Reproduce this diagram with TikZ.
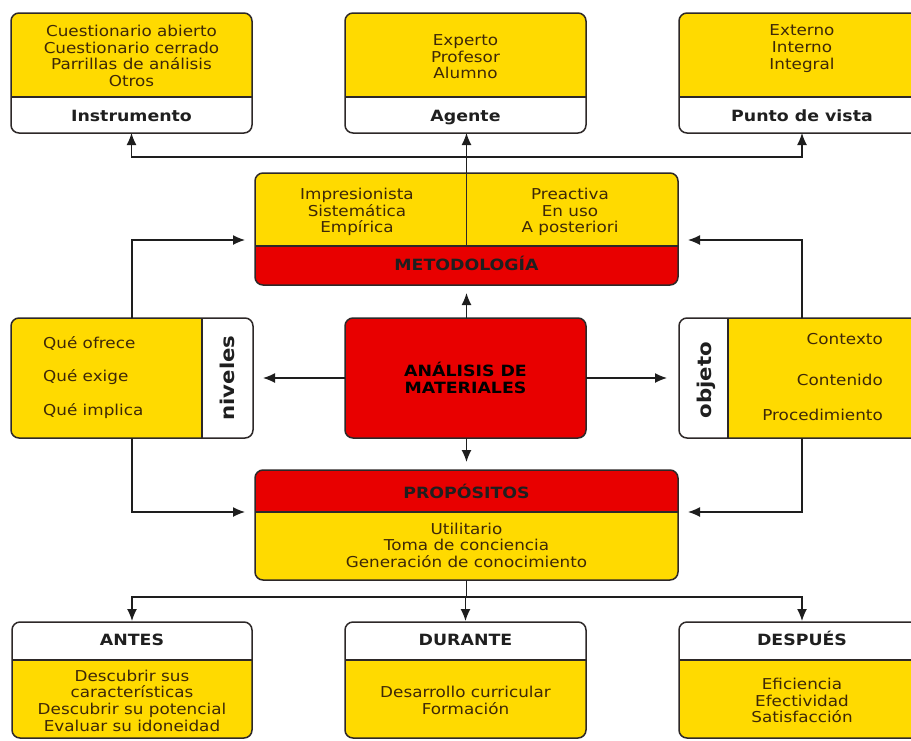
\documentclass[tikz,border=0pt]{standalone}
\usepackage{fontspec}
\setmainfont[FakeStretch=1.12]{DejaVu Sans}
\usetikzlibrary{arrows.meta,fit,calc}
\definecolor{yel}{RGB}{255,218,0}
\definecolor{redbox}{RGB}{232,0,0}
\definecolor{txt}{RGB}{62,40,8}
\definecolor{framec}{RGB}{45,40,40}
\definecolor{linec}{RGB}{30,30,30}

\newcommand\splitH[7]{%
  \begin{scope}
    \clip[rounded corners=8pt] (#1,#2) rectangle (#3,#4);
    \fill[#6] (#1,#2) rectangle (#3,#5);
    \fill[#7] (#1,#5) rectangle (#3,#4);
    \draw[divl] (#1,#5) -- (#3,#5);
  \end{scope}}
\newcommand\splitV[7]{%
  \begin{scope}
    \clip[rounded corners=8pt] (#1,#2) rectangle (#3,#4);
    \fill[#6] (#1,#2) rectangle (#5,#4);
    \fill[#7] (#5,#2) rectangle (#3,#4);
    \draw[divl] (#5,#2) -- (#5,#4);
  \end{scope}}

\tikzset{
  framebox/.style={draw=framec, line width=1.5pt, rounded corners=8pt, inner sep=0pt, outer sep=0pt},
  divl/.style={draw=framec, line width=1.3pt},
  item/.style={font=\fontsize{15}{16.6}\selectfont, text=txt, align=center, inner sep=0pt},
  head/.style={font=\fontsize{15.5}{17}\selectfont\bfseries, text=black!88, align=center, inner sep=0pt, anchor=base},
  side/.style={font=\fontsize{19}{20}\selectfont\bfseries, text=black!88, rotate=90, inner sep=0pt},
  conn/.style={draw=linec, line width=1.3pt},
  arr/.style={conn, -{Latex[length=12pt,width=10pt]}},
}

\begin{document}
\begin{tikzpicture}[x=1pt,y=-1pt]
\useasboundingbox (0,0) rectangle (911,740);
\clip (0,0) rectangle (911,740);

% ---------- top row ----------
\splitH{11}{13}{252}{133}{97}{yel}{white}
\node[framebox, fit={(11,13)(252,133)}] (instr) {};
\splitH{345}{13}{586}{133}{97}{yel}{white}
\node[framebox, fit={(345,13)(586,133)}] (agente) {};
\splitH{679}{13}{925}{133}{97}{yel}{white}
\node[framebox, fit={(679,13)(925,133)}] (pv) {};

\node[item] (instrT) at (131.5,56) {Cuestionario abierto\\Cuestionario cerrado\\Parrillas de análisis\\Otros};
\node[head] (instrL) at (131.5,121.5) {Instrumento};
\node[item] (agenteT) at (465.5,57) {Experto\\Profesor\\Alumno};
\node[head] (agenteL) at (465.5,121.5) {Agente};
\node[item] (pvT) at (802,48.5) {Externo\\Interno\\Integral};
\node[head] (pvL) at (802,121.5) {Punto de vista};

% ---------- metodologia ----------
\splitH{255}{173}{678}{285}{246}{yel}{redbox}
\node[framebox, fit={(255,173)(678,285)}] (metod) {};
\draw[divl] (metod.north) -- (metod.north |- 0,246);
\node[item] (metL) at (357,212) {Impresionista\\Sistemática\\Empírica};
\node[item] (metR) at (570,212) {Preactiva\\En uso\\A posteriori};
\node[head] (metH) at (466.5,270.5) {METODOLOGÍA};

% ---------- middle row ----------
\splitV{11}{318}{253}{438}{202}{yel}{white}
\node[framebox, fit={(11,318)(253,438)}] (niv) {};
\node[item, anchor=west] (n1) at (43,343) {Qué ofrece};
\node[item, anchor=west] (n2) at (43,377) {Qué exige};
\node[item, anchor=west] (n3) at (43,411) {Qué implica};
\node[side] (nivL) at (227,378) {niveles};

\fill[redbox, rounded corners=8pt] (345,318) rectangle (586,438);
\node[framebox, fit={(345,318)(586,438)}] (anal) {};
\node[head, anchor=center, text=black] (analT) at (465.5,378) {ANÁLISIS DE\\MATERIALES};

\splitV{679}{318}{925}{438}{728}{white}{yel}
\node[framebox, fit={(679,318)(925,438)}] (obj) {};
\node[item, anchor=east] (o1) at (883,339) {Contexto};
\node[item, anchor=east] (o2) at (883,380) {Contenido};
\node[item, anchor=east] (o3) at (883,415) {Procedimiento};
\node[side] (objL) at (706,380) {objeto};

% ---------- propositos ----------
\splitH{255}{470}{678}{580}{512}{redbox}{yel}
\node[framebox, fit={(255,470)(678,580)}] (prop) {};
\node[head] (propH) at (466.5,498.5) {PROPÓSITOS};
\node[item] (propT) at (466.5,545) {Utilitario\\Toma de conciencia\\Generación de conocimiento};

% ---------- bottom row ----------
\splitH{12}{622}{252}{738}{660}{white}{yel}
\node[framebox, fit={(12,622)(252,738)}] (antes) {};
\splitH{345}{622}{586}{738}{660}{white}{yel}
\node[framebox, fit={(345,622)(586,738)}] (durante) {};
\splitH{679}{622}{925}{738}{660}{white}{yel}
\node[framebox, fit={(679,622)(925,738)}] (despues) {};

\node[head] (antesL) at (132,645.5) {ANTES};
\node[item] (antesT) at (132,700.5) {Descubrir sus\\características\\Descubrir su potencial\\Evaluar su idoneidad};
\node[head] (duranteL) at (465.5,645.5) {DURANTE};
\node[item] (duranteT) at (465.5,700.5) {Desarrollo curricular\\Formación};
\node[head] (despuesL) at (802,645.5) {DESPUÉS};
\node[item] (despuesT) at (802,700.5) {Eficiencia\\Efectividad\\Satisfacción};

% ---------- connectors ----------
\coordinate (hubT) at (466.5,157);
\draw[arr] (metod.north) -- (metod.north |- agente.south);
\draw[arr] (hubT) -| (instr.south);
\draw[arr] (hubT) -| (pv.south);

\draw[arr, shorten >=8pt] (anal.north -| metod.south) -- (metod.south);
\draw[arr, shorten >=8pt] (anal.south -| prop.north) -- (prop.north);
\draw[arr, shorten >=10pt] (anal.west) -- (niv.east);
\draw[arr, shorten >=12pt] (anal.east) -- (obj.west);

\draw[arr, shorten >=10pt] (niv.north) |- (metod.west |- 0,240);
\draw[arr, shorten >=10pt] (obj.north) |- (metod.east |- 0,240);
\draw[arr, shorten >=10pt] (niv.south) |- (prop.west |- 0,512);
\draw[arr, shorten >=10pt] (obj.south) |- (prop.east |- 0,512);

\coordinate (hubB) at (466.5,597);
\draw[conn] (prop.south) -- (hubB);
\draw[arr, shorten >=1pt] (hubB) -| (antes.north);
\draw[arr, shorten >=1pt] (hubB) -| (durante.north);
\draw[arr, shorten >=1pt] (hubB) -| (despues.north);
\end{tikzpicture}
\end{document}
